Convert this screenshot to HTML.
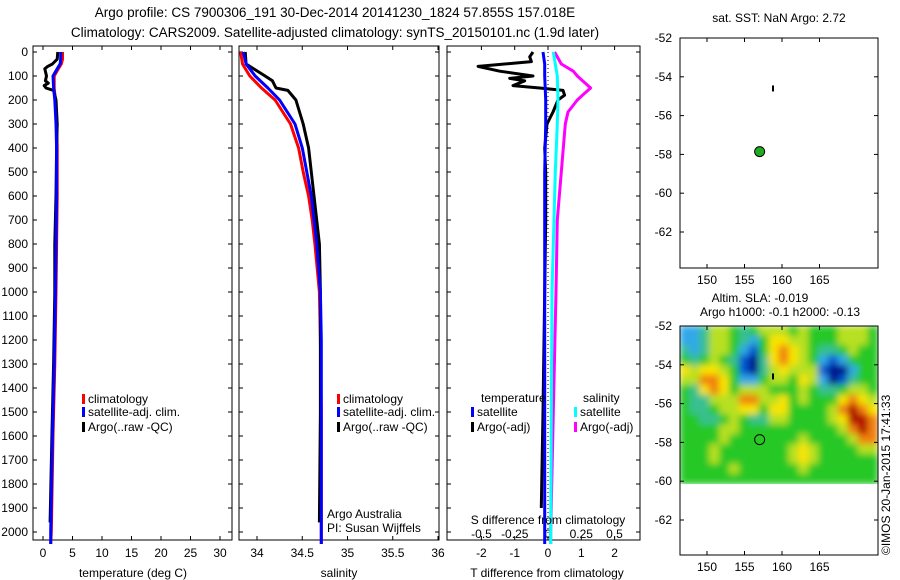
<!DOCTYPE html>
<html><head><meta charset="utf-8"><style>
body{margin:0;background:#fff;}
svg{display:block;font-family:"Liberation Sans",sans-serif;font-size:12px;}
</style></head><body>
<svg id="fig" width="900" height="580">
<text x="335" y="17" text-anchor="middle" font-size="13.5">Argo profile: CS 7900306_191 30-Dec-2014 20141230_1824 57.855S 157.018E</text>
<text x="335" y="37" text-anchor="middle" font-size="13.5">Climatology: CARS2009. Satellite-adjusted climatology: synTS_20150101.nc (1.9d later)</text>
<g id="g"></g>
</svg>
<script>
// depth axis (shared)
const depthTicks=[0,100,200,300,400,500,600,700,800,900,1000,1100,1200,1300,1400,1500,1600,1700,1800,1900,2000];
// temperature panel
const tTicks=[0,5,10,15,20,25,30];
const climTdep=[0,30,50,70,100,150,200,300,400,600,800,1000,1300,1600,2000,2050];
const climT=[3.3,3.3,3.1,2.6,1.9,1.9,2.1,2.3,2.4,2.4,2.3,2.2,2.0,1.7,1.4,1.3];
const satT=[3.0,3.0,2.9,2.4,1.7,1.8,2.0,2.2,2.3,2.3,2.2,2.1,1.9,1.6,1.3,1.3];
const argoTdep=[0,30,50,60,70,100,120,130,140,150,160,200,250,300,400,600,800,1000,1300,1600,1960];
const argoT=[2.5,2.4,1.6,0.8,0.3,0.6,0.4,0.9,0.2,0.5,1.8,2.2,2.3,2.4,2.3,2.2,2.0,2.0,1.8,1.5,1.2];
// salinity panel
const sTicks=[34,34.5,35,35.5,36];
const sDep=[0,50,100,150,200,300,400,500,600,700,800,1000,1200,1500,2000,2050];
const climS=[33.82,33.84,33.92,34.05,34.2,34.37,34.46,34.51,34.57,34.61,34.64,34.69,34.7,34.71,34.71,34.71];
const satS=[33.85,33.88,33.98,34.12,34.25,34.42,34.5,34.55,34.6,34.63,34.66,34.7,34.71,34.71,34.71,34.71];
const argoSdep=[0,50,100,120,150,160,200,300,400,500,600,700,800,1000,1500,1960];
const argoS=[33.87,33.88,34.09,34.17,34.21,34.34,34.43,34.51,34.57,34.6,34.63,34.66,34.69,34.7,34.7,34.69];
// difference panel
const dtTicks=[-2,-1,0,1,2];
const dsTicks=[-0.5,-0.25,0,0.25,0.5];
const dsTickLabels=['-0.5','-0.25','0','0.25','0.5'];
const argoDTdep=[0,20,40,60,80,100,110,120,140,150,160,180,200,250,300,400,500,700,1000,1500,1900];
const argoDT=[-0.45,-0.55,-0.5,-2.1,-1.45,-0.45,-1.15,-0.7,-1.05,-0.25,0.45,0.5,0.3,0.15,-0.03,-0.1,-0.07,-0.07,-0.1,-0.15,-0.2];
const satDTdep=[0,50,100,200,300,500,1000,2000,2050];
const satDT=[-0.15,-0.1,-0.1,-0.07,-0.07,-0.1,-0.1,-0.1,-0.1];
const satDSdep=[0,100,200,300,500,1000,2000,2050];
const satDS=[0.04,0.07,0.075,0.07,0.055,0.03,0.02,0.02];
const argoDSdep=[0,50,80,100,150,170,200,250,300,500,700,1000,1500,2000,2050];
const argoDS=[0.05,0.1,0.19,0.22,0.32,0.28,0.22,0.15,0.13,0.1,0.07,0.06,0.04,0.02,0.02];
// maps
const lonTicks=[150,155,160,165];
const latTicks=[-52,-54,-56,-58,-60,-62];
const argoLon=157.018, argoLat=-57.855;
const prevLon=158.8, prevLat=-54.6;
// SLA grid (rows north->south, cols west->east), scaled -4..4
const sla=[
[-2,-2,-1,1,1,0,-1,0,1,1,1,0,1,0,0,0,1,1,1,0],
[-2,-2,-1,1,1,0,-1,-2,0,2,2,1,1,0,0,0,1,1,1,0],
[-1,-2,-1,1,1,0,-2,-3,0,2,3,2,1,0,-1,-1,0,1,0,0],
[0,-1,0,1,0,-1,-3,-4,-1,2,3,2,1,0,-2,-3,-2,0,0,0],
[2,1,2,2,1,0,-3,-4,-1,1,2,1,1,1,-3,-4,-4,-2,0,0],
[1,1,3,3,2,0,-2,-2,0,1,1,0,2,1,-2,-4,-3,-1,0,0],
[0,-1,2,3,2,0,1,1,1,0,0,0,1,0,-1,-1,0,1,1,0],
[0,-1,-1,1,1,1,3,3,1,1,2,0,1,0,0,0,2,3,2,1],
[0,-1,-1,0,1,1,2,2,0,2,2,0,0,0,0,1,3,4,3,2],
[0,0,-1,-1,0,1,0,-1,-1,1,1,0,0,0,0,1,2,4,4,3],
[0,0,0,0,1,1,0,0,0,0,0,0,0,0,0,0,1,3,4,3],
[0,0,0,0,1,0,0,0,0,0,0,0,1,0,0,0,0,1,3,3],
[0,0,0,1,0,0,0,0,0,0,0,1,2,1,0,0,0,0,1,1],
[0,0,0,1,0,0,0,0,0,0,0,1,2,1,0,0,0,0,0,0],
[0,0,0,0,0,1,0,0,0,0,0,0,1,0,0,0,0,0,0,0],
[0,0,0,0,0,0,0,0,0,0,0,0,0,0,0,0,0,0,0,0]];

const NS='http://www.w3.org/2000/svg';
const G=document.getElementById('g');
function el(t,a,p){const e=document.createElementNS(NS,t);for(const k in a)e.setAttribute(k,a[k]);(p||G).appendChild(e);return e;}
function txt(x,y,s,anchor,p){const e=el('text',{x:x,y:y,'text-anchor':anchor||'start'},p);e.textContent=s;return e;}
const yD=d=>52+d*0.24;
const PT={x0:33,x1:232}, PS={x0:239,x1:439}, PD={x0:447,x1:640};
const xT=v=>43+v*5.9, xS=v=>257+(v-34)*90.5, xDT=v=>548+v*33.3, xDS=v=>548+v*133;
function frame(P,name){
  const r=el('rect',{x:P.x0,y:46,width:P.x1-P.x0,height:494,fill:'none',stroke:'#000','stroke-width':1});
  
  
  depthTicks.forEach(d=>{const y=yD(d);el('line',{x1:P.x0,y1:y,x2:P.x0+4,y2:y,stroke:'#000'});el('line',{x1:P.x1-4,y1:y,x2:P.x1,y2:y,stroke:'#000'});});
}
function line(xs,ds,fx,col,name,w){
  const pts=xs.map((v,i)=>fx(v).toFixed(1)+','+yD(ds[i]).toFixed(1)).join(' ');
  const e=el('polyline',{points:pts,fill:'none',stroke:col,'stroke-width':w||3,'stroke-linejoin':'round'});
  
  
}
function xticks(P,ticks,fx,labels,y){
  ticks.forEach((t,i)=>{const x=fx(t);el('line',{x1:x,y1:46,x2:x,y2:50,stroke:'#000'});el('line',{x1:x,y1:536,x2:x,y2:540,stroke:'#000'});
    const e=txt(x,y,labels?labels[i]:String(t),'middle');
    
    });
}
// temperature
frame(PT,'temperature-panel');
depthTicks.forEach(d=>{const e=txt(28,yD(d)+4,String(d),'end');
  
  });
xticks(PT,tTicks,xT,null,557);
line(climT,climTdep,xT,'#f00','climatology-temp-line');
line(argoT,argoTdep,xT,'#000','argo-temp-line');
line(satT,climTdep,xT,'#00f','satellite-temp-line');
txt(133,577,'temperature (deg C)','middle');
// salinity
frame(PS,'salinity-panel');
xticks(PS,sTicks,xS,null,557);
line(climS,sDep,xS,'#f00','climatology-salinity-line');
line(argoS,argoSdep,xS,'#000','argo-salinity-line');
line(satS,sDep,xS,'#00f','satellite-salinity-line');
txt(339,577,'salinity','middle');
// legends
function legend(x,y,col,label,name){
  el('rect',{x:x,y:y-9,width:3,height:10,fill:col});
  const e=txt(x+6,y,label);
  
  
}
legend(82,403,'#f00','climatology','legend-climatology');
legend(82,416,'#00f','satellite-adj. clim.','legend-satellite');
legend(82,431,'#000','Argo(..raw -QC)','legend-argo');
legend(337,403,'#f00','climatology','legend-climatology-2');
legend(337,416,'#00f','satellite-adj. clim.','legend-satellite-2');
legend(337,431,'#000','Argo(..raw -QC)','legend-argo-2');
txt(327,518,'Argo Australia');
txt(327,532,'PI: Susan Wijffels');
// diff panel
frame(PD,'difference-panel');
el('line',{x1:xDT(0),y1:52,x2:xDT(0),y2:540,stroke:'#000','stroke-dasharray':'1,3'});
xticks(PD,dtTicks,xDT,null,557);
dsTicks.forEach((t,i)=>{const e=txt(xDS(t),538,dsTickLabels[i],'middle');
  
  });
line(argoDT,argoDTdep,xDT,'#000','argo-temp-diff-line');
line(satDT,satDTdep,xDT,'#00f','satellite-temp-diff-line');
line(argoDS,argoDSdep,xDS,'#f0f','argo-salinity-diff-line');
line(satDS,satDSdep,xDS,'#0ff','satellite-salinity-diff-line');
txt(481,402,'temperature');
txt(583,402,'salinity');
legend(471,416,'#00f','satellite','legend-sat-temp');
legend(471,431,'#000','Argo(-adj)','legend-argo-temp');
legend(574,416,'#0ff','satellite','legend-sat-salinity');
legend(574,431,'#f0f','Argo(-adj)','legend-argo-salinity');
txt(548,524,'S difference from climatology','middle');
txt(547,577,'T difference from climatology','middle');
// maps
const xL=v=>707+(v-150)*7.5;
function mapFrame(y0,y1,latTop,name){
  const yL=v=>y0+(latTop-v)*19.4;
  const r=el('rect',{x:680,y:y0,width:198,height:y1-y0,fill:'none',stroke:'#000'});
  
  
  latTicks.forEach(t=>{const y=yL(t);el('line',{x1:680,y1:y,x2:684,y2:y,stroke:'#000'});el('line',{x1:874,y1:y,x2:878,y2:y,stroke:'#000'});
    const e=txt(672,y+4,String(t),'end');
    
    });
  lonTicks.forEach(t=>{const x=xL(t);el('line',{x1:x,y1:y0,x2:x,y2:y0+4,stroke:'#000'});el('line',{x1:x,y1:y1-4,x2:x,y2:y1,stroke:'#000'});
    const e=txt(x,y1+16,String(t),'middle');
    
    });
  return yL;
}
const yL1=mapFrame(38,268,-52,'sst-map');
txt(779,22,'sat. SST: NaN Argo: 2.72','middle');
el('line',{x1:xL(prevLon),y1:yL1(prevLat)-3,x2:xL(prevLon),y2:yL1(prevLat)+3,stroke:'#000','stroke-width':2});
el('circle',{cx:xL(argoLon),cy:yL1(argoLat),r:5,fill:'#2a2',stroke:'#000'});
// SLA heatmap
const cols=['#00108a','#0058d0','#30a8e8','#38c090','#28c828','#b8e020','#f8e400','#f08010','#b00000'];
const yL2v=v=>326+(-52-v)*19.4;
const defs=el('defs',{});
const f=el('filter',{id:'bl',x:'0',y:'0',width:'1',height:'1'},defs);
el('feGaussianBlur',{stdDeviation:'3.5'},f);
const cp=el('clipPath',{id:'cp'},defs);el('rect',{x:680,y:326,width:198,height:158},cp);
const hg=el('g',{'clip-path':'url(#cp)'});


const inner=el('g',{filter:'url(#bl)'},hg);
const cw=198/sla[0].length, ch=158/sla.length;
sla.forEach((row,j)=>row.forEach((v,i)=>{
  el('rect',{x:680+i*cw-0.5,y:326+j*ch-0.5,width:cw+1,height:ch+1,fill:cols[v+4]},inner);
}));
const yL2=mapFrame(326,555,-52,'sla-map');
txt(760,302,'Altim. SLA: -0.019','middle');
txt(780,316,'Argo h1000: -0.1 h2000: -0.13','middle');
el('line',{x1:xL(prevLon),y1:yL2(prevLat)-3,x2:xL(prevLon),y2:yL2(prevLat)+3,stroke:'#000','stroke-width':2});
el('circle',{cx:xL(argoLon),cy:yL2(argoLat),r:5,fill:'none',stroke:'#000'});
const rt=txt(0,0,'©IMOS 20-Jan-2015 17:41:33','start');
rt.setAttribute('transform','translate(890,555) rotate(-90)');


</script>
</body></html>
